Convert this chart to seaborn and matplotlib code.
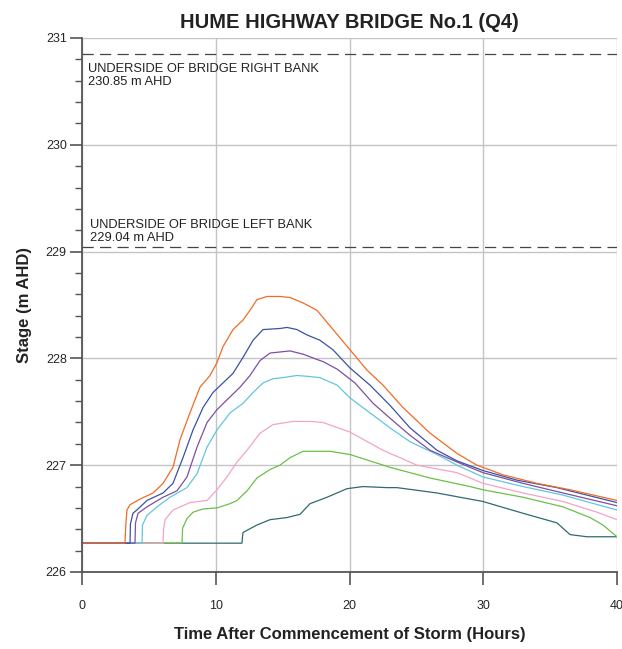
import numpy as np
import pandas as pd
import matplotlib
matplotlib.use("Agg")
import matplotlib.pyplot as plt
import seaborn as sns

# ---------------- data ----------------
t_orange = [0, 3.21, 3.28, 3.36, 3.59, 4.3, 5.31, 6.06, 6.80, 7.33, 8.07, 8.82, 9.57, 10.09, 10.54, 11.29,
            12.04, 12.56, 13.08, 13.83, 14.80, 15.55, 16.52, 17.57, 18.77, 20.04, 21.31, 22.50, 24.00,
            26.02, 28.04, 29.53, 31.48, 34.02, 36.49, 40]
v_orange = [226.27, 226.27, 226.45, 226.58, 226.63, 226.68, 226.74, 226.83, 226.98, 227.24, 227.49, 227.73,
            227.84, 227.96, 228.11, 228.27, 228.36, 228.45, 228.55, 228.58, 228.58, 228.57, 228.52, 228.45,
            228.27, 228.08, 227.89, 227.75, 227.54, 227.30, 227.11, 227.00, 226.91, 226.83, 226.77, 226.67]

t_blue = [0, 3.59, 3.62, 3.81, 4.1, 4.86, 6.06, 6.80, 7.55, 8.30, 9.05, 9.79, 10.54, 11.29, 12.04, 12.79,
          13.53, 14.80, 15.33, 16.07, 16.82, 17.79, 18.77, 20.04, 21.53, 23.03, 24.52, 26.54, 28.04, 29.98,
          32.52, 35.51, 40]
v_blue = [226.27, 226.27, 226.45, 226.55, 226.58, 226.67, 226.74, 226.83, 227.07, 227.33, 227.54, 227.68,
          227.77, 227.86, 228.01, 228.17, 228.27, 228.28, 228.29, 228.27, 228.22, 228.17, 228.08, 227.91,
          227.75, 227.56, 227.35, 227.14, 227.04, 226.95, 226.86, 226.79, 226.65]

t_purple = [0, 3.96, 4.0, 4.19, 4.86, 6.06, 7.10, 7.85, 8.60, 9.35, 10.09, 11.07, 11.81, 12.56, 13.31, 14.06,
            15.55, 16.52, 17.57, 18.02, 19.07, 20.41, 21.76, 23.03, 24.52, 26.02, 28.04, 29.98, 32.97, 35.96, 40]
v_purple = [226.27, 226.27, 226.46, 226.55, 226.61, 226.70, 226.76, 226.89, 227.17, 227.40, 227.52, 227.64,
            227.73, 227.84, 227.98, 228.05, 228.07, 228.04, 227.99, 227.97, 227.90, 227.77, 227.58, 227.44,
            227.28, 227.14, 227.03, 226.93, 226.83, 226.74, 226.62]

t_cyan = [0, 4.49, 4.52, 4.86, 5.61, 6.58, 7.85, 8.60, 9.35, 10.09, 11.07, 12.04, 12.79, 13.53, 14.28, 15.03,
          16.07, 17.05, 17.79, 19.07, 20.04, 21.53, 23.03, 24.52, 26.54, 28.04, 29.98, 32.97, 35.96, 40]
v_cyan = [226.27, 226.27, 226.44, 226.53, 226.61, 226.70, 226.79, 226.92, 227.17, 227.33, 227.49, 227.58,
          227.68, 227.77, 227.81, 227.82, 227.84, 227.83, 227.82, 227.75, 227.63, 227.49, 227.35, 227.22,
          227.10, 227.00, 226.89, 226.80, 226.72, 226.58]

t_pink = [0, 6.06, 6.10, 6.21, 6.80, 8.07, 9.35, 10.09, 10.84, 11.59, 12.34, 13.31, 14.28, 15.78, 17.05,
          18.02, 20.04, 22.50, 25.05, 28.04, 29.98, 32.97, 35.96, 38.50, 40]
v_pink = [226.27, 226.27, 226.40, 226.49, 226.58, 226.65, 226.67, 226.77, 226.89, 227.03, 227.14, 227.30,
          227.38, 227.41, 227.41, 227.40, 227.31, 227.14, 227.00, 226.93, 226.83, 226.74, 226.66, 226.56, 226.49]

t_green = [0, 7.48, 7.52, 7.85, 8.30, 9.05, 10.09, 11.07, 11.59, 12.34, 13.08, 14.06, 14.80, 15.55, 16.52,
           18.54, 20.04, 23.03, 26.02, 29.01, 29.98, 32.97, 35.96, 37.98, 38.95, 40]
v_green = [226.27, 226.27, 226.41, 226.50, 226.56, 226.59, 226.60, 226.64, 226.67, 226.76, 226.88, 226.96,
           227.00, 227.07, 227.13, 227.13, 227.10, 226.98, 226.88, 226.80, 226.77, 226.70, 226.61, 226.51,
           226.44, 226.33]

t_teal = [0, 11.96, 12.0, 12.04, 13.08, 14.06, 15.33, 16.30, 17.05, 18.32, 19.81, 21.01, 22.80, 23.55, 26.54,
          29.98, 32.97, 35.51, 36.49, 37.76, 40]
v_teal = [226.27, 226.27, 226.33, 226.37, 226.44, 226.49, 226.51, 226.54, 226.64, 226.70, 226.78, 226.80,
          226.79, 226.79, 226.74, 226.66, 226.55, 226.46, 226.35, 226.33, 226.33]

series_names = ["s1", "s2", "s3", "s4", "s5", "s6", "s7"]
series_t = [t_teal, t_green, t_pink, t_cyan, t_purple, t_blue, t_orange]
series_v = [v_teal, v_green, v_pink, v_cyan, v_purple, v_blue, v_orange]
series_colors = ["#2e6b6c", "#6cbf4a", "#f4a3c9", "#62c6df", "#7d4fa2", "#3a52a3", "#f26b24"]

bridge_levels = [230.85, 229.04]
bridge_labels = ["UNDERSIDE OF BRIDGE RIGHT BANK\n230.85 m AHD",
                 "UNDERSIDE OF BRIDGE LEFT BANK\n229.04 m AHD"]

x_ticks = [0, 10, 20, 30, 40]
y_ticks = [226, 227, 228, 229, 230, 231]

# ---------------- build frame ----------------
rows = []
for name, ts, vs in zip(series_names, series_t, series_v):
    for i, (t, v) in enumerate(zip(ts, vs)):
        rows.append({"series": name, "order": i, "time": t, "stage": v})
df = pd.DataFrame(rows)

sns.set_style("white")
plt.rcParams["font.family"] = ["Liberation Sans", "DejaVu Sans"]

fig = plt.figure(figsize=(6.22, 6.49), dpi=100)
ax = fig.add_axes([82 / 622, 77 / 649, 535 / 622, 534 / 649])

ax.grid(True, color="#c4c4c4", linewidth=1.0, zorder=0)
ax.set_axisbelow(True)

sns.lineplot(data=df, x="time", y="stage", hue="series", hue_order=series_names,
             palette=dict(zip(series_names, series_colors)), sort=False, estimator=None,
             units="series", linewidth=0.9, legend=False, ax=ax)

for lvl, lab, ty, va, tx in zip(bridge_levels, bridge_labels, [230.765, 229.075], ["top", "bottom"], [0.45, 0.6]):
    ax.axhline(lvl, color="#444444", linewidth=0.9, dashes=(9, 5))
    ax.text(tx, ty, lab, fontsize=9.3, color="#222222", ha="left", va=va, linespacing=1.1)

ax.set_xlim(0, 40)
ax.set_ylim(226, 231)
ax.set_xticks(x_ticks)
ax.set_yticks(y_ticks)
ax.set_yticks(np.arange(226, 231.01, 0.2), minor=True)
ax.tick_params(axis="y", which="major", direction="out", length=9, width=1.2, color="#555555",
               labelsize=9, pad=2, left=True)
ax.tick_params(axis="y", which="minor", direction="out", length=5, width=1.0, color="#555555", left=True)
ax.tick_params(axis="x", which="major", direction="out", length=9, width=1.2, color="#555555",
               labelsize=9, pad=11, bottom=True)
for s in ["top", "right"]:
    ax.spines[s].set_visible(False)
for s in ["left", "bottom"]:
    ax.spines[s].set_color("#555555")
    ax.spines[s].set_linewidth(1.3)

ax.set_xlabel("Time After Commencement of Storm (Hours)", fontsize=12, fontweight="bold", labelpad=11,
              color="#222222")
ax.set_ylabel("Stage (m AHD)", fontsize=12, fontweight="bold", labelpad=10, color="#222222")
ax.set_title("HUME HIGHWAY BRIDGE No.1 (Q4)", fontsize=14.5, fontweight="bold", pad=7, color="#222222")

fig.savefig("out.png", dpi=100)
